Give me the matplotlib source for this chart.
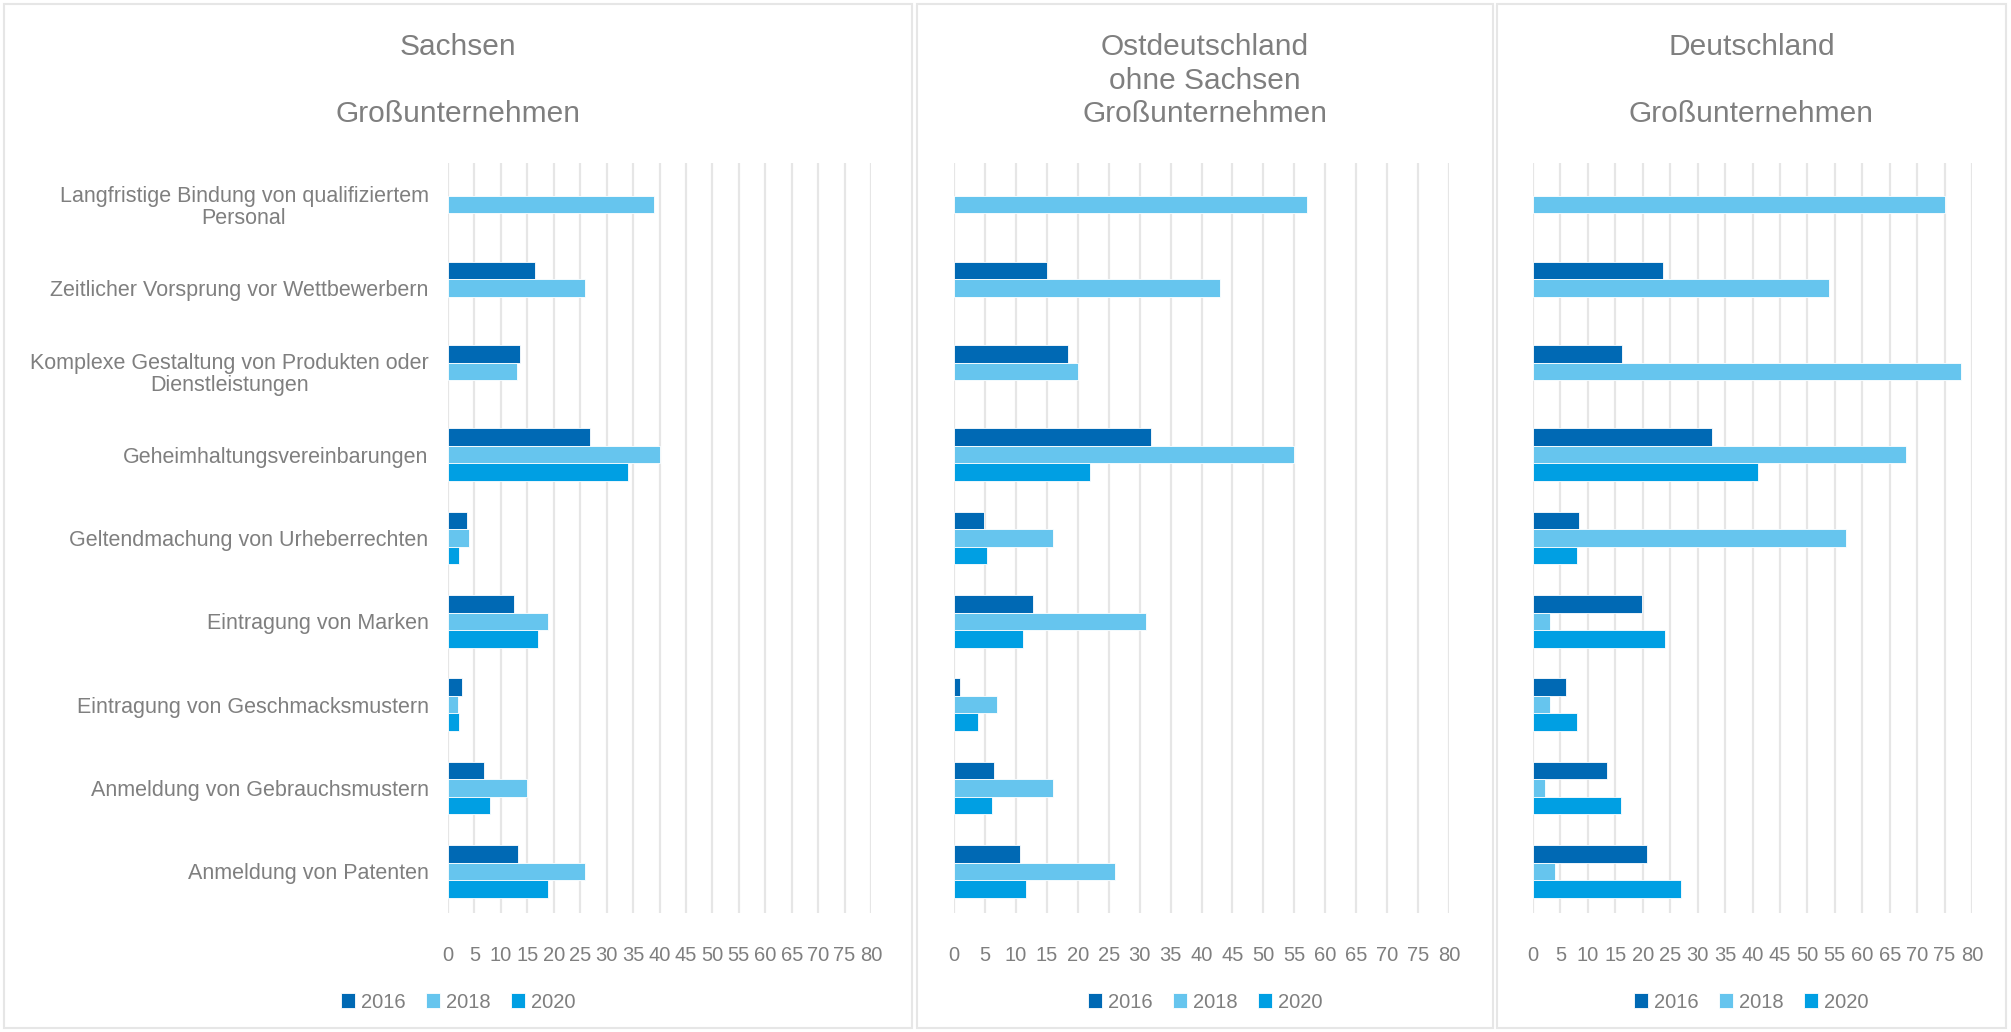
import matplotlib.pyplot as plt
import numpy as np
from matplotlib.patches import Rectangle

plt.rcParams['font.family'] = ['Liberation Sans', 'DejaVu Sans']

categories = [
    "Langfristige Bindung von qualifiziertem\nPersonal",
    "Zeitlicher Vorsprung vor Wettbewerbern",
    "Komplexe Gestaltung von Produkten oder\nDienstleistungen",
    "Geheimhaltungsvereinbarungen",
    "Geltendmachung von Urheberrechten",
    "Eintragung von Marken",
    "Eintragung von Geschmacksmustern",
    "Anmeldung von Gebrauchsmustern",
    "Anmeldung von Patenten",
]
years = ["2016", "2018", "2020"]
nan = np.nan

sachsen_2016 = [nan, 16.4, 13.7, 26.9, 3.5, 12.5, 2.7, 6.9, 13.3]
sachsen_2018 = [39.0, 25.9, 13.0, 40.0, 3.9, 19.0, 1.9, 14.9, 25.9]
sachsen_2020 = [nan, nan, nan, 34.0, 2.0, 17.0, 2.0, 8.0, 19.0]

ost_2016 = [nan, 15.0, 18.5, 31.8, 4.8, 12.8, 0.9, 6.5, 10.6]
ost_2018 = [57.0, 43.0, 20.0, 55.0, 16.0, 31.0, 7.0, 16.0, 26.0]
ost_2020 = [nan, nan, nan, 21.9, 5.4, 11.1, 3.9, 6.1, 11.7]

de_2016 = [nan, 23.7, 16.2, 32.6, 8.3, 19.9, 6.1, 13.4, 20.7]
de_2018 = [75.0, 54.0, 78.0, 68.0, 57.0, 3.1, 3.1, 2.1, 4.0]
de_2020 = [nan, nan, nan, 41.0, 8.1, 24.1, 8.1, 16.0, 27.0]

titles = [
    "Sachsen\n\nGroßunternehmen",
    "Ostdeutschland\nohne Sachsen\nGroßunternehmen",
    "Deutschland\n\nGroßunternehmen",
]
panels = [
    (sachsen_2016, sachsen_2018, sachsen_2020),
    (ost_2016, ost_2018, ost_2020),
    (de_2016, de_2018, de_2020),
]

colors = ['#0069B4', '#66C5EE', '#009FE3']
text_grey = '#7F7F7F'
grid_grey = '#E6E6E6'

W, H = 2011, 1032
fig = plt.figure(figsize=(W / 100, H / 100), dpi=100)

# panel frames (pixel extents) and plot areas inside them
frames = [(4, 912), (917, 1493), (1497, 2006)]
plot_x = [(448, 871), (954, 1449), (1533, 1972)]
plot_top, plot_bottom = 163, 913

for (fx0, fx1) in frames:
    fig.patches.append(Rectangle((fx0 / W, 4 / H), (fx1 - fx0) / W, (H - 8) / H,
                                 transform=fig.transFigure, fill=False,
                                 edgecolor=grid_grey, linewidth=1.5))

y = np.arange(len(categories))
h = 0.21

for i, (series, title) in enumerate(zip(panels, titles)):
    x0, x1 = plot_x[i]
    ax = fig.add_axes([x0 / W, 1 - plot_bottom / H, (x1 - x0) / W,
                       (plot_bottom - plot_top) / H])
    for k, (vals, col, lab) in enumerate(zip(series, colors, years)):
        ax.barh(y + (k - 1) * h, vals, height=h, color=col, label=lab,
                edgecolor='white', linewidth=0.6, zorder=3)
    ax.set_ylim(len(categories) - 0.5, -0.5)
    ax.set_xlim(0, 80)
    ax.set_xticks(np.arange(0, 81, 5))
    ax.xaxis.grid(True, color=grid_grey, linewidth=1.6, zorder=0)
    ax.set_axisbelow(True)
    for s in ax.spines.values():
        s.set_visible(False)
    ax.tick_params(axis='x', length=0, labelsize=14.5, labelcolor=text_grey, pad=24)
    ax.tick_params(axis='y', length=0, labelsize=15.5, labelcolor=text_grey, pad=14)
    if i == 0:
        ax.set_yticks(y)
        ax.set_yticklabels(categories, ha='right', multialignment='center',
                           linespacing=1.05)
    else:
        ax.set_yticks([])

    fx0, fx1 = frames[i]
    cx = (fx0 + fx1) / 2 / W
    fig.text(cx, 1 - 33 / H, title, ha='center', va='top', fontsize=21.5,
             color=text_grey, linespacing=1.25)
    ax.legend(loc='center', bbox_to_anchor=(cx, 1 - 1002 / H),
              bbox_transform=fig.transFigure, ncol=3, frameon=False,
              fontsize=14.5, labelcolor=text_grey, handlelength=0.7,
              handleheight=0.7, handletextpad=0.3, columnspacing=1.0)

fig.savefig('out.png', dpi=100)
plt.close(fig)
